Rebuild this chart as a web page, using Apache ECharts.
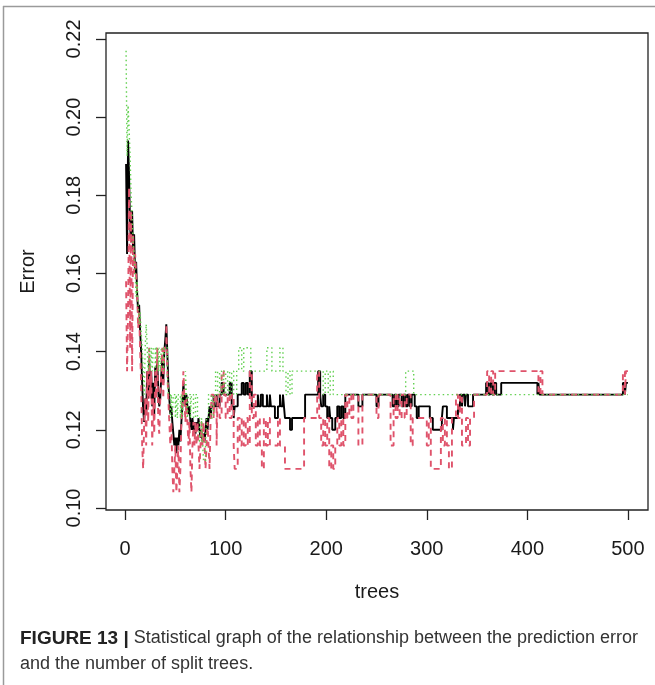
<!DOCTYPE html>
<html>
<head>
<meta charset="utf-8">
<script src="https://cdn.jsdelivr.net/npm/echarts@6/dist/echarts.min.js"></script>
<style>
html, body { margin: 0; padding: 0; background: #fff; }
#ErrorTreesChart { width: 655px; height: 685px; }
</style>
</head>
<body>
<div id="ErrorTreesChart"></div>
<script>
// tick labels
const xTicks = [0, 100, 200, 300, 400, 500];
const yTicks = [0.10, 0.12, 0.14, 0.16, 0.18, 0.20, 0.22];

// [tree, error] change points (value holds until next point)
const oobErr = [
  [1,.188],[2,.165],[3,.194],[4,.185],[5,.172],[6,.168],[7,.176],[8,.165],[9,.170],[10,.160],
  [11,.163],[12,.155],[13,.150],[14,.152],[15,.145],[16,.140],[17,.132],[18,.125],[19,.122],[20,.128],
  [21,.124],[22,.135],[23,.128],[24,.138],[25,.130],[26,.135],[27,.126],[28,.132],[29,.124],[30,.136],
  [31,.132],[32,.138],[33,.130],[34,.126],[35,.128],[36,.134],[37,.138],[38,.132],[39,.140],[40,.143],
  [41,.147],[42,.140],[43,.132],[44,.128],[45,.124],[46,.126],[47,.122],[48,.119],[49,.116],[50,.118],
  [51,.114],[52,.118],[53,.116],[54,.120],[55,.117],[56,.122],[57,.126],[58,.132],[59,.128],[60,.126],
  [61,.129],[62,.126],[63,.124],[64,.126],[65,.122],[66,.120],[67,.123],[68,.120],[69,.122],[70,.119],
  [71,.122],[72,.120],[73,.123],[74,.120],[75,.118],[76,.120],[77,.117],[78,.119],[79,.117],[80,.120],
  [81,.123],[82,.120],[83,.123],[84,.126],[85,.123],[86,.126],[88,.129],[89,.126],[91,.129],[92,.126],
  [94,.129],[96,.132],[98,.129],[104,.132],[106,.126],[108,.123],[109,.126],[112,.129],[116,.132],[118,.129],
  [120,.132],[122,.129],[124,.135],[126,.126],[132,.129],[133,.126],[135,.129],[137,.126],[141,.129],[142,.126],
  [144,.129],[145,.126],[149,.123],[152,.126],[154,.129],[155,.126],[157,.129],[158,.126],[159,.123],[164,.120],
  [166,.123],[179,.129],[192,.135],[194,.129],[195,.126],[197,.129],[199,.126],[201,.123],[203,.126],[204,.123],
  [206,.120],[209,.123],[211,.126],[213,.123],[215,.126],[217,.123],[219,.129],[232,.126],[236,.129],[250,.126],
  [252,.129],[266,.126],[268,.129],[270,.126],[272,.129],[275,.126],[277,.129],[279,.126],[281,.129],[283,.126],
  [285,.129],[288,.126],[290,.123],[292,.126],[303,.123],[306,.120],[315,.123],[316,.126],[320,.123],[326,.120],
  [327,.123],[331,.126],[333,.129],[335,.126],[336,.129],[338,.126],[339,.129],[341,.126],[346,.129],[359,.132],
  [361,.129],[363,.132],[365,.129],[367,.132],[369,.129],[374,.132],[410,.129],[411,.132],[412,.129],[495,.132],
  [497,.129],[498,.132],[500,.132]
];

const class1Err = [
  [1,.158],[2,.135],[3,.150],[4,.182],[5,.141],[6,.176],[7,.135],[8,.170],[9,.160],[10,.165],
  [11,.160],[12,.155],[13,.146],[14,.150],[15,.140],[16,.132],[17,.116],[18,.110],[19,.122],[20,.128],
  [21,.116],[22,.135],[23,.122],[24,.141],[25,.128],[26,.135],[27,.116],[28,.128],[29,.119],[30,.135],
  [31,.128],[32,.141],[33,.122],[34,.119],[35,.128],[36,.135],[37,.141],[38,.128],[39,.141],[41,.147],
  [42,.135],[43,.128],[44,.122],[45,.116],[46,.122],[47,.110],[48,.104],[49,.110],[50,.116],[51,.104],
  [52,.110],[53,.116],[54,.104],[55,.110],[56,.122],[57,.128],[58,.135],[59,.128],[60,.122],[61,.128],
  [62,.122],[63,.116],[64,.122],[65,.110],[66,.104],[67,.116],[68,.122],[69,.116],[70,.122],[71,.116],
  [72,.122],[73,.116],[74,.110],[75,.116],[76,.122],[77,.116],[78,.122],[79,.116],[80,.110],[81,.116],
  [82,.122],[83,.116],[84,.110],[85,.122],[86,.129],[88,.123],[89,.129],[91,.116],[92,.129],[94,.123],
  [96,.135],[98,.129],[100,.123],[102,.129],[104,.123],[106,.129],[108,.116],[109,.110],[112,.123],[114,.116],
  [116,.123],[118,.116],[120,.123],[122,.116],[124,.135],[126,.123],[128,.129],[130,.116],[132,.123],[134,.116],
  [136,.110],[138,.123],[140,.116],[142,.123],[144,.116],[152,.123],[154,.116],[159,.110],[178,.123],[191,.135],
  [193,.123],[195,.116],[197,.123],[199,.116],[201,.123],[203,.110],[205,.116],[207,.110],[209,.116],[211,.123],
  [213,.116],[215,.123],[217,.116],[219,.129],[221,.123],[223,.129],[225,.123],[227,.129],[232,.116],[236,.129],
  [250,.123],[252,.129],[264,.116],[267,.129],[269,.123],[271,.129],[273,.123],[275,.129],[278,.123],[280,.129],
  [284,.116],[286,.123],[300,.116],[302,.123],[304,.110],[314,.123],[316,.116],[318,.123],[320,.116],[322,.110],
  [325,.123],[329,.129],[331,.123],[333,.129],[335,.116],[339,.123],[341,.116],[343,.123],[347,.129],[360,.135],
  [362,.129],[364,.135],[366,.129],[368,.135],[411,.129],[413,.135],[415,.129],[495,.135],[497,.129],[498,.135],
  [500,.135]
];

const class2Err = [
  [1,.217],[2,.190],[3,.203],[4,.197],[5,.190],[6,.180],[7,.175],[8,.168],[9,.165],[10,.160],
  [11,.154],[12,.158],[13,.152],[14,.147],[15,.150],[16,.145],[17,.141],[18,.135],[19,.129],[20,.141],
  [21,.147],[22,.141],[23,.135],[24,.141],[25,.135],[26,.141],[27,.135],[28,.141],[30,.135],[31,.141],
  [33,.135],[34,.141],[35,.135],[36,.141],[38,.135],[39,.141],[42,.135],[43,.129],[45,.123],[46,.129],
  [47,.123],[48,.129],[50,.123],[51,.129],[52,.123],[53,.129],[55,.123],[56,.129],[57,.123],[58,.129],
  [60,.135],[61,.129],[62,.123],[63,.129],[65,.123],[66,.129],[68,.123],[70,.129],[72,.123],[74,.117],
  [76,.123],[77,.117],[78,.112],[80,.117],[81,.123],[83,.129],[86,.123],[88,.129],[90,.135],[92,.129],
  [94,.135],[96,.129],[98,.135],[100,.129],[102,.135],[104,.129],[106,.135],[108,.129],[111,.135],[113,.141],
  [116,.135],[118,.141],[125,.135],[141,.141],[146,.135],[154,.141],[157,.135],[160,.129],[162,.135],[164,.129],
  [166,.135],[197,.129],[199,.135],[202,.129],[204,.135],[207,.129],[279,.135],[287,.129],[500,.129]
];

const fontFam = '"Liberation Sans", Arial, sans-serif';
const inkColor = '#1a1a1a';

const myChart = echarts.init(document.getElementById('ErrorTreesChart'));

const option = {
  animation: false,
  grid: {
    left: 106,
    top: 33,
    width: 542,
    height: 477,
    show: true,
    borderColor: '#222',
    borderWidth: 1.3,
    backgroundColor: 'transparent'
  },
  xAxis: {
    type: 'value',
    min: -18.96,
    max: 519.96,
    name: 'trees',
    nameLocation: 'middle',
    nameGap: 72,
    nameMoveOverlap: false,
    nameTextStyle: { fontSize: 20, color: inkColor, fontFamily: fontFam },
    axisLine: { show: false, onZero: false },
    splitLine: { show: false },
    axisTick: {
      show: true,
      length: 10,
      customValues: xTicks,
      lineStyle: { color: '#222', width: 1.3 }
    },
    axisLabel: {
      customValues: xTicks,
      margin: 29,
      fontSize: 20,
      color: inkColor,
      fontFamily: fontFam
    }
  },
  yAxis: {
    type: 'value',
    min: 0.09948,
    max: 0.22152,
    name: 'Error',
    nameLocation: 'middle',
    nameGap: 68,
    nameMoveOverlap: false,
    nameRotate: 90,
    nameTextStyle: { fontSize: 20, color: inkColor, fontFamily: fontFam },
    axisLine: { show: false, onZero: false },
    splitLine: { show: false },
    axisTick: {
      show: true,
      length: 10,
      customValues: yTicks,
      lineStyle: { color: '#222', width: 1.3 }
    },
    axisLabel: {
      customValues: yTicks,
      rotate: 90,
      margin: 22,
      fontSize: 20,
      color: inkColor,
      fontFamily: fontFam,
      formatter: function (v) {
        return v.toFixed(2);
      }
    }
  },
  series: [
    {
      name: 'OOB',
      type: 'line',
      step: 'end',
      showSymbol: false,
      data: oobErr,
      lineStyle: { color: '#000', width: 1.9 }
    },
    {
      name: '1',
      type: 'line',
      step: 'end',
      showSymbol: false,
      data: class1Err,
      lineStyle: { color: '#DF536B', width: 1.9, type: [6, 5] }
    },
    {
      name: '2',
      type: 'line',
      step: 'end',
      showSymbol: false,
      data: class2Err,
      lineStyle: { color: '#61D04F', width: 1.4, type: [1.5, 3] }
    }
  ],
  graphic: [
    { type: 'line', shape: { x1: 3.5, y1: 6, x2: 3.5, y2: 685 }, style: { stroke: '#9a9a9a', lineWidth: 1.5 } },
    { type: 'line', shape: { x1: 3, y1: 6.5, x2: 655, y2: 6.5 }, style: { stroke: '#9a9a9a', lineWidth: 1.5 } },
    {
      type: 'text',
      left: 20,
      top: 629,
      style: {
        text: '{b|FIGURE 13 |} Statistical graph of the relationship between the prediction error',
        font: '18px "Liberation Sans Narrow", "Liberation Sans", sans-serif',
        fill: '#333',
        rich: {
          b: { fontWeight: 'bold', fontSize: 19, fontFamily: '"Liberation Sans", sans-serif', fill: '#222' }
        }
      }
    },
    {
      type: 'text',
      left: 20,
      top: 655,
      style: {
        text: 'and the number of split trees.',
        font: '18px "Liberation Sans Narrow", "Liberation Sans", sans-serif',
        fill: '#333'
      }
    }
  ]
};

myChart.setOption(option);
</script>
</body>
</html>
